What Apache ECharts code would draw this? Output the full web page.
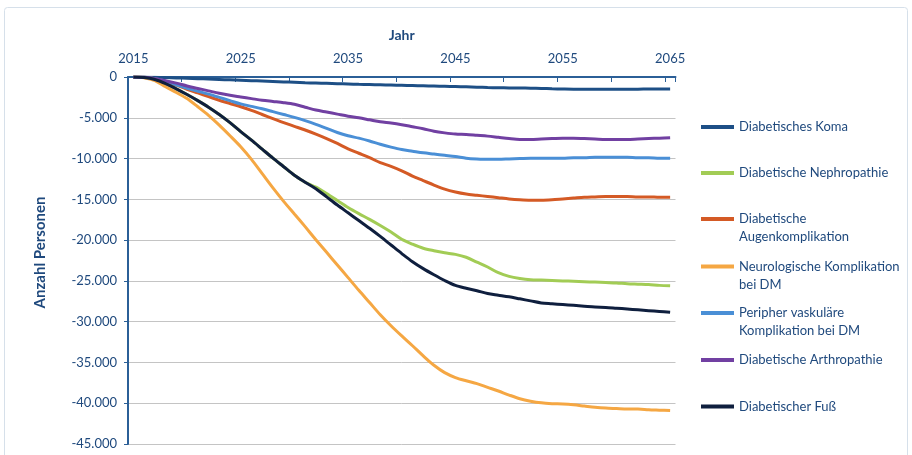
<!DOCTYPE html>
<html>
<head>
<meta charset="utf-8">
<script src="https://cdn.jsdelivr.net/npm/echarts@6/dist/echarts.min.js"></script>
<style>
  html, body { margin: 0; padding: 0; background: #ffffff; }
  #chart { width: 912px; height: 455px; }
</style>
</head>
<body>
<div id="chart"></div>
<script>
// Jahre 2015 bis 2065
const years = [];
for (let y = 2015; y <= 2065; y++) years.push(String(y));

// Veränderung der Anzahl Personen je Folgeerkrankung
const koma = [0, -10, -30, -70, -110, -150, -200, -250, -300, -350, -400, -450, -500, -550, -600, -650, -700, -740, -780, -820, -860, -900, -930, -960, -990, -1020, -1050, -1080, -1110, -1140, -1170, -1200, -1250, -1290, -1320, -1340, -1350, -1370, -1400, -1450, -1480, -1500, -1500, -1500, -1500, -1500, -1500, -1490, -1480, -1480, -1480];
const nephropathie = [0, -60, -300, -800, -1450, -2150, -2900, -3700, -4600, -5600, -6700, -7750, -8850, -9950, -11000, -12050, -12900, -13500, -14300, -15150, -16000, -16750, -17450, -18200, -19000, -19900, -20500, -21000, -21300, -21550, -21750, -22100, -22700, -23300, -24000, -24450, -24700, -24850, -24900, -24950, -25000, -25050, -25100, -25150, -25200, -25250, -25350, -25400, -25450, -25550, -25600];
const augen = [0, -40, -200, -550, -1000, -1500, -1950, -2400, -2850, -3250, -3650, -4100, -4600, -5100, -5600, -6050, -6500, -7000, -7550, -8150, -8800, -9350, -9900, -10500, -10950, -11500, -12150, -12700, -13250, -13750, -14100, -14350, -14500, -14650, -14800, -14950, -15050, -15100, -15100, -15050, -14950, -14850, -14750, -14700, -14650, -14650, -14650, -14700, -14700, -14750, -14750];
const neuro = [0, -80, -450, -1200, -1900, -2650, -3650, -4700, -5900, -7200, -8550, -10100, -11850, -13600, -15250, -16800, -18350, -19950, -21500, -23050, -24600, -26150, -27650, -29150, -30500, -31750, -32950, -34200, -35350, -36250, -36850, -37250, -37600, -38050, -38500, -39000, -39450, -39750, -39950, -40050, -40100, -40200, -40350, -40500, -40600, -40650, -40700, -40700, -40800, -40850, -40900];
const peripher = [0, -40, -200, -500, -950, -1400, -1750, -2100, -2500, -2900, -3300, -3600, -3900, -4250, -4600, -4950, -5350, -5800, -6300, -6800, -7200, -7500, -7850, -8250, -8600, -8900, -9100, -9300, -9450, -9600, -9750, -9950, -10050, -10100, -10100, -10050, -10000, -9950, -9950, -9950, -9950, -9900, -9900, -9850, -9850, -9850, -9850, -9900, -9900, -9950, -9950];
const arthro = [0, -40, -200, -450, -750, -1100, -1400, -1700, -2000, -2250, -2450, -2650, -2850, -3000, -3150, -3350, -3700, -4050, -4300, -4550, -4800, -5000, -5250, -5500, -5650, -5850, -6100, -6350, -6650, -6850, -7000, -7050, -7150, -7250, -7400, -7550, -7650, -7650, -7600, -7550, -7500, -7500, -7550, -7600, -7650, -7650, -7650, -7600, -7550, -7500, -7450];
const fuss = [0, -60, -300, -800, -1450, -2150, -2900, -3700, -4600, -5600, -6700, -7750, -8850, -9950, -11000, -12050, -12900, -13700, -14700, -15700, -16650, -17600, -18550, -19550, -20600, -21650, -22650, -23500, -24250, -24950, -25550, -25900, -26200, -26550, -26750, -26950, -27200, -27450, -27700, -27800, -27900, -28000, -28100, -28200, -28250, -28350, -28450, -28550, -28650, -28750, -28850];

const seriesNames = [
  'Diabetisches Koma',
  'Diabetische Nephropathie',
  'Diabetische Augenkomplikation',
  'Neurologische Komplikation bei DM',
  'Peripher vaskuläre Komplikation bei DM',
  'Diabetische Arthropathie',
  'Diabetischer Fuß'
];
// Legendentext mit Zeilenumbrüchen
const legendLabels = [
  ['Diabetisches Koma'],
  ['Diabetische Nephropathie'],
  ['Diabetische', 'Augenkomplikation'],
  ['Neurologische Komplikation', 'bei DM'],
  ['Peripher vaskuläre', 'Komplikation bei DM'],
  ['Diabetische Arthropathie'],
  ['Diabetischer Fuß']
];
const seriesData = [koma, nephropathie, augen, neuro, peripher, arthro, fuss];
const colors = ['#1d4f86', '#a2cc55', '#d45a25', '#f5a743', '#4a8fd6', '#7140a2', '#0f1f3e'];

const textBlue = '#1f497d';
const axisBlue = '#2b5f97';
const font = 'Lato, "Liberation Sans", sans-serif';

const chart = echarts.init(document.getElementById('chart'), null, { renderer: 'canvas' });

const LINE_H = 18;
const legendCenters = [127, 173, 219, 266.5, 313, 360, 406.5];
const legends = seriesNames.map((name, i) => {
  const lines = legendLabels[i];
  const text = lines.length > 1 ? '\n' + lines.join('\n') : lines[0];
  const half = lines.length > 1 ? LINE_H * 1.5 : LINE_H / 2;
  return {
    data: [name],
    left: 701,
    top: legendCenters[i] - half,
    orient: 'vertical',
    padding: 0,
    icon: 'rect',
    itemWidth: 33,
    itemHeight: 4,
    selectedMode: false,
    formatter: () => text,
    textStyle: { color: textBlue, fontFamily: font, fontSize: 13, lineHeight: LINE_H }
  };
});

const fmt = v => {
  if (v === 0) return '0';
  const s = String(Math.abs(v)).replace(/\B(?=(\d{3})+(?!\d))/g, '.');
  return (v < 0 ? '-' : '') + s;
};

chart.setOption({
  animation: false,
  backgroundColor: '#ffffff',
  color: colors,
  graphic: [{
    type: 'rect',
    shape: { x: 4.5, y: 7.5, width: 903, height: 470, r: 3 },
    style: { fill: 'none', stroke: '#d6e0ea', lineWidth: 1 },
    silent: true,
    z: -10
  }],
  grid: { left: 128, right: 236.5, top: 77, bottom: 11 },
  legend: legends,
  xAxis: {
    type: 'category',
    data: years,
    position: 'top',
    boundaryGap: true,
    name: 'Jahr',
    nameLocation: 'middle',
    nameGap: 35,
    nameTextStyle: { color: textBlue, fontFamily: font, fontSize: 14, fontWeight: 'bold' },
    axisLine: { onZero: false, lineStyle: { color: axisBlue, width: 2 } },
    axisTick: { show: true, inside: true, length: 5, interval: 4, lineStyle: { color: axisBlue, width: 1 } },
    axisLabel: { interval: 9, margin: 12, color: textBlue, fontFamily: font, fontSize: 13 },
    splitLine: { show: false }
  },
  yAxis: {
    type: 'value',
    min: -45000,
    max: 0,
    interval: 5000,
    name: 'Anzahl Personen',
    nameLocation: 'middle',
    nameGap: 80,
    nameRotate: 90,
    nameTextStyle: { color: textBlue, fontFamily: font, fontSize: 15, fontWeight: 'bold', padding: [0, 0, 0, 16] },
    axisLine: { show: true, lineStyle: { color: axisBlue, width: 2 } },
    axisTick: { show: true, length: 4, lineStyle: { color: axisBlue, width: 1 } },
    axisLabel: { margin: 11, color: textBlue, fontFamily: font, fontSize: 13, formatter: fmt },
    splitLine: { show: true, lineStyle: { color: '#c4c4c4', width: 1 } }
  },
  series: seriesNames.map((name, i) => ({
    name,
    type: 'line',
    data: seriesData[i],
    smooth: 0.3,
    showSymbol: false,
    symbol: 'none',
    lineStyle: { width: 3, color: colors[i] },
    itemStyle: { color: colors[i] }
  }))
});
</script>
</body>
</html>
